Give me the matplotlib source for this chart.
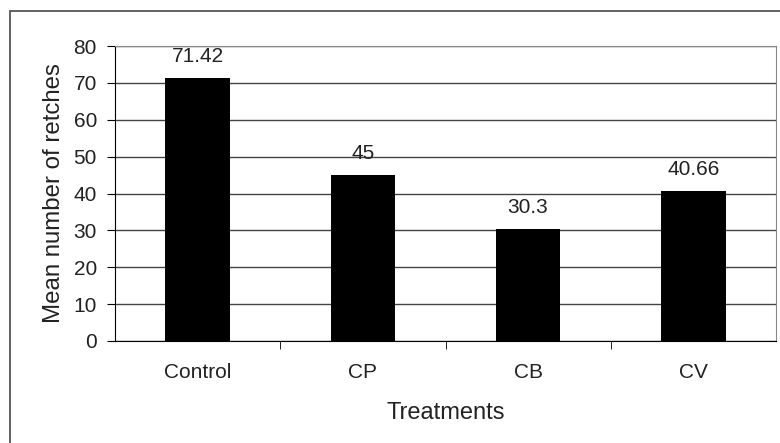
import matplotlib.pyplot as plt
from matplotlib.patches import Rectangle

plt.rcParams['font.family'] = ['Liberation Sans', 'DejaVu Sans']

treatments = ['Control', 'CP', 'CB', 'CV']
retches = [71.42, 45, 30.3, 40.66]
labels = ['71.42', '45', '30.3', '40.66']

fig = plt.figure(figsize=(7.8, 4.43), dpi=100)
# outer chart border (right and bottom edges run off the picture)
fig.patches.append(Rectangle((10/780, -5/443), 780/780, 437/443, transform=fig.transFigure,
                             fill=False, edgecolor='#555555', linewidth=1.3))

ax = fig.add_axes([115/780, 1 - 341/443, 661/780, 295/443])
x = range(len(treatments))
ax.bar(x, retches, width=0.39, color='black', zorder=3)
for xi, v, t in zip(x, retches, labels):
    ax.text(xi, v + 3.2, t, ha='center', va='bottom', fontsize=15, color='#222222')

ax.set_xlim(-0.5, 3.5)
ax.set_ylim(0, 80)
ax.set_yticks(range(0, 81, 10))
ax.set_xticks(list(x))
ax.set_xticklabels(treatments, fontsize=15, color='#222222')
ax.set_xticks([0.5, 1.5, 2.5], minor=True)
ax.tick_params(axis='x', which='major', length=0, pad=16)
ax.tick_params(axis='x', which='minor', length=6, direction='out')
ax.tick_params(axis='y', labelsize=15, labelcolor='#222222', length=6, direction='out', pad=7)
ax.yaxis.grid(True, color='#444444', linewidth=1, zorder=0)
ax.set_axisbelow(True)
for s in ['top', 'right']:
    ax.spines[s].set_color('#888888')
ax.set_xlabel('Treatments', fontsize=17, labelpad=14, color='#222222')
ax.set_ylabel('Mean number of retches', fontsize=17.3, labelpad=6, color='#222222')

fig.savefig('out.png', dpi=100)
